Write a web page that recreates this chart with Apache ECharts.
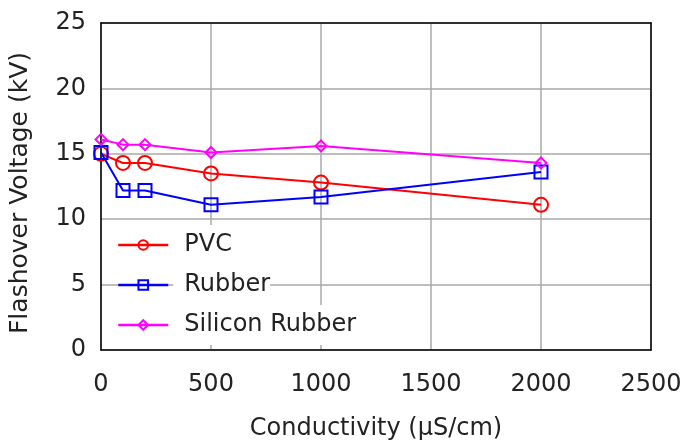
<!DOCTYPE html>
<html>
<head>
<meta charset="utf-8">
<script src="https://cdn.jsdelivr.net/npm/echarts@6/dist/echarts.min.js"></script>
<style>html,body{margin:0;padding:0;background:#fff}#c{width:684px;height:442px}</style>
</head>
<body>
<div id="c"></div>
<script>
var conductivity = [0, 100, 200, 500, 1000, 2000];
var pvc = [15.0, 14.3, 14.3, 13.5, 12.8, 11.1];
var rubber = [15.1, 12.2, 12.2, 11.1, 11.7, 13.6];
var silicon = [16.1, 15.7, 15.7, 15.1, 15.6, 14.3];
var xTicks = [0, 500, 1000, 1500, 2000, 2500];
var yTicks = [0, 5, 10, 15, 20, 25];

function pairs(ys) { return conductivity.map(function (x, i) { return [x, ys[i]]; }); }

var FONT = 'DejaVu Sans';
var TXT = '#222';
var chart = echarts.init(document.getElementById('c'), null, { renderer: 'canvas' });
chart.setOption({
  animation: false,
  backgroundColor: '#fff',
  grid: { left: 101, top: 23, right: 33, bottom: 92, show: false, outerBoundsMode: 'none', containLabel: false },
  xAxis: [{
    type: 'value', min: xTicks[0], max: xTicks[xTicks.length - 1], interval: 500,
    name: 'Conductivity (µS/cm)', nameLocation: 'middle', nameGap: 67,
    nameTextStyle: { fontFamily: FONT, fontSize: 24, color: TXT },
    axisLine: { show: true, onZero: false, lineStyle: { color: '#000', width: 1.5 } },
    axisTick: { show: false },
    axisLabel: { fontFamily: FONT, fontSize: 24, color: TXT, margin: 23,
      formatter: function (v) { return String(v); } },
    splitLine: { show: true, lineStyle: { color: '#a8a8a8', width: 1.5 } }
  }, {
    type: 'value', position: 'top', min: xTicks[0], max: xTicks[xTicks.length - 1], interval: 500,
    axisLine: { show: true, onZero: false, lineStyle: { color: '#000', width: 1.5 } },
    axisTick: { show: false }, axisLabel: { show: false }, splitLine: { show: false }
  }],
  yAxis: [{
    type: 'value', min: yTicks[0], max: yTicks[yTicks.length - 1], interval: 5,
    name: 'Flashover Voltage (kV)', nameLocation: 'middle', nameGap: 68, nameRotate: 90,
    nameTextStyle: { fontFamily: FONT, fontSize: 25, color: TXT, padding: [0, 13, 0, 0] },
    axisLine: { show: true, onZero: false, lineStyle: { color: '#000', width: 1.5 } },
    axisTick: { show: false },
    axisLabel: { fontFamily: FONT, fontSize: 24, color: TXT, margin: 15, padding: [8, 0, 0, 0] },
    splitLine: { show: true, lineStyle: { color: '#a8a8a8', width: 1.5 } }
  }, {
    type: 'value', position: 'right', min: yTicks[0], max: yTicks[yTicks.length - 1], interval: 5,
    axisLine: { show: true, onZero: false, lineStyle: { color: '#000', width: 1.5 } },
    axisTick: { show: false }, axisLabel: { show: false }, splitLine: { show: false }
  }],
  legend: {
    orient: 'vertical', left: 117, top: 225, itemGap: 0, itemWidth: 50, itemHeight: 12,
    padding: 0,
    lineStyle: { width: 2.5 },
    textStyle: { fontFamily: FONT, fontSize: 24, color: TXT, backgroundColor: '#fff',
      padding: [8, 0, 8, 11], lineHeight: 24 },
    data: ['PVC', 'Rubber', 'Silicon Rubber']
  },
  series: [{
    name: 'PVC', type: 'line', data: pairs(pvc),
    symbol: 'circle', symbolSize: 14,
    lineStyle: { color: '#ff0000', width: 2 },
    itemStyle: { color: 'rgba(255,255,255,0)', borderColor: '#ff0000', borderWidth: 2 }
  }, {
    name: 'Rubber', type: 'line', data: pairs(rubber),
    symbol: 'rect', symbolSize: 13,
    lineStyle: { color: '#0000ff', width: 2 },
    itemStyle: { color: 'rgba(255,255,255,0)', borderColor: '#0000ff', borderWidth: 2 }
  }, {
    name: 'Silicon Rubber', type: 'line', data: pairs(silicon),
    symbol: 'diamond', symbolSize: 11,
    lineStyle: { color: '#ff00ff', width: 2 },
    itemStyle: { color: 'rgba(255,255,255,0)', borderColor: '#ff00ff', borderWidth: 2 }
  }]
});
</script>
</body>
</html>
